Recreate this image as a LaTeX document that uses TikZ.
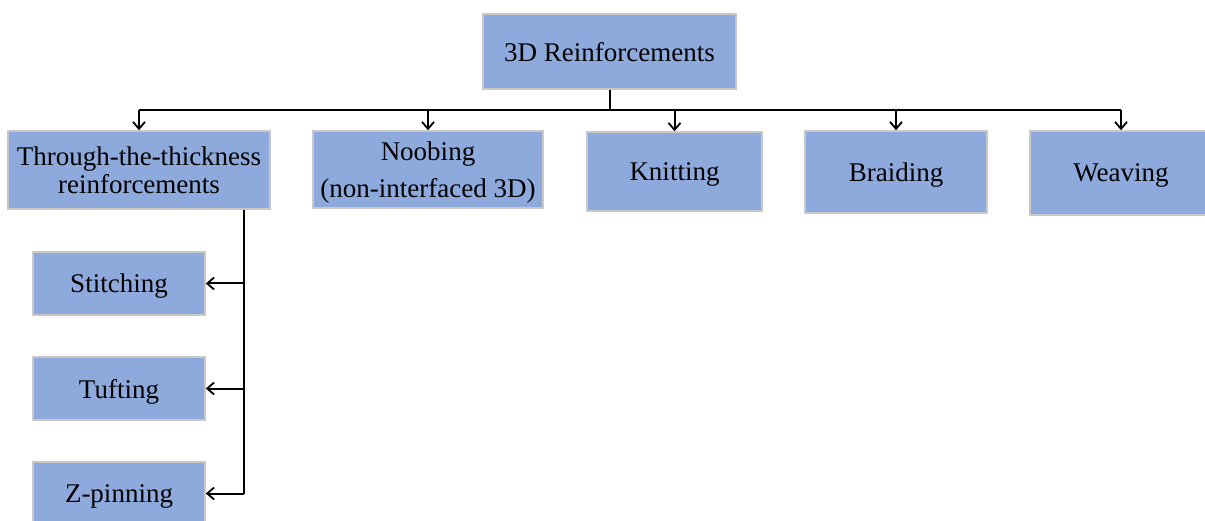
\documentclass[tikz,border=0pt]{standalone}
\usepackage{fontspec}
\setmainfont{Liberation Serif}
\usetikzlibrary{arrows.meta}
\definecolor{boxfill}{HTML}{8EAADC}
\definecolor{boxline}{HTML}{C8C8C8}
\begin{document}
\begin{tikzpicture}[x=1pt,y=-1pt,
  box/.style={draw=boxline,line width=1.5pt,fill=boxfill,inner sep=0pt,
    align=center,text depth=0pt,font=\fontsize{27}{27.5}\selectfont,text=black},
  link/.style={draw=black,line width=2pt},
  arr/.style={link,-{Straight Barb[length=7pt,width=12pt,line width=1.8pt]}}]
\useasboundingbox (0,0) rectangle (1205,521);
\clip (0,0) rectangle (1205,521);
% top level
\node[box,minimum width=253pt,minimum height=75pt] (root) at (609.5,51.5) {3D Reinforcements};
% second level
\node[box,minimum width=262pt,minimum height=78pt] (thr) at (139,170) {Through-the-thickness\\reinforcements};
\node[box,minimum width=230pt,minimum height=77pt] (noob) at (428,169.5) {Noobing\\[10pt](non-interfaced 3D)};
\node[box,minimum width=175pt,minimum height=79pt] (knit) at (674.5,171.5) {Knitting};
\node[box,minimum width=182pt,minimum height=82pt] (braid) at (896,172) {Braiding};
\node[box,minimum width=182pt,minimum height=84pt] (weave) at (1121,173) {Weaving};
% through-the-thickness methods
\node[box,minimum width=172pt,minimum height=63pt] (stitch) at (119,283.5) {Stitching};
\node[box,minimum width=172pt,minimum height=63pt] (tuft) at (119,388.5) {Tufting};
\node[box,minimum width=172pt,minimum height=63pt] (zpin) at (119,493.5) {Z-pinning};
% bus from the root
\coordinate (bus) at (609.5,110);
\draw[link] (root.south) -- (bus);
\draw[link] (thr.north |- bus) -- (weave.north |- bus);
\foreach \n in {thr,noob,knit,braid,weave}
  \draw[arr] (\n.north |- bus) -- (\n.north);
% branch down the left side
\coordinate (spine) at (244,0);
\draw[link] (spine |- thr.south) -- (spine |- zpin.east);
\foreach \n in {stitch,tuft,zpin}
  \draw[arr] (spine |- \n.east) -- (\n.east);
\end{tikzpicture}
\end{document}
